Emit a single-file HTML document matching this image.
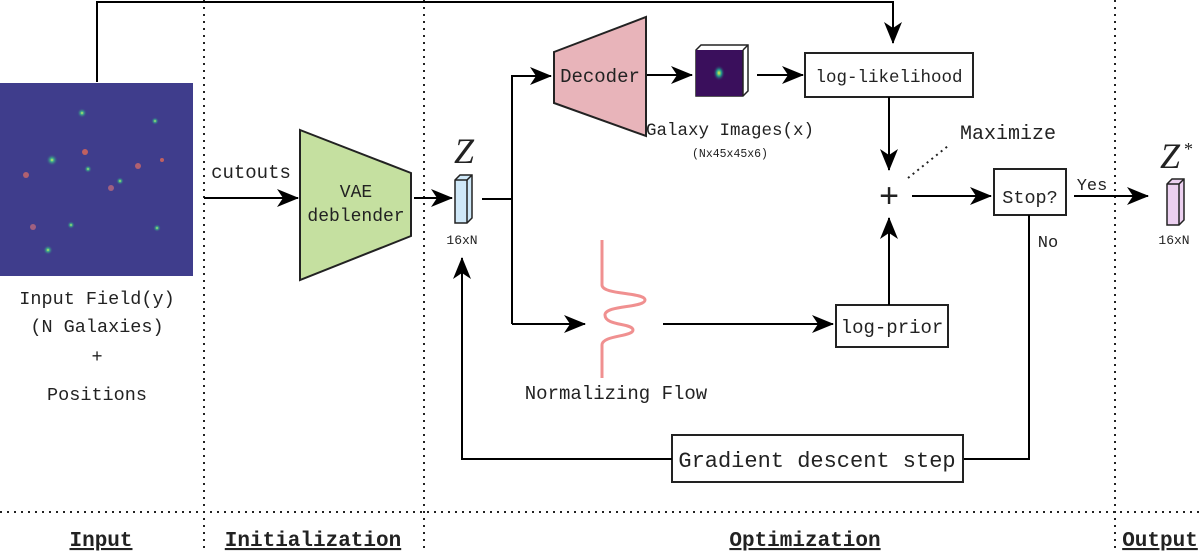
<!DOCTYPE html>
<html><head><meta charset="utf-8"><style>
html,body{margin:0;padding:0;background:#fff;}
svg{display:block;}
text{font-family:"Liberation Mono",monospace;fill:#222;}
</style></head><body>
<svg width="1200" height="553" viewBox="0 0 1200 553" xmlns="http://www.w3.org/2000/svg">
<defs>
<marker id="a" markerWidth="22" markerHeight="18" refX="21" refY="9" orient="auto" markerUnits="userSpaceOnUse" viewBox="0 0 22 18">
<path d="M0,0 L22,9 L0,18 L6,9 Z" fill="#000"/></marker>
<radialGradient id="g"><stop offset="0" stop-color="#d8f060"/><stop offset="0.3" stop-color="#3cb08a"/><stop offset="1" stop-color="#3c3a8a" stop-opacity="0"/></radialGradient>
<radialGradient id="g2"><stop offset="0" stop-color="#e8f040"/><stop offset="0.4" stop-color="#20a090"/><stop offset="1" stop-color="#3a0f5c" stop-opacity="0"/></radialGradient>
</defs>

<g stroke="#222" stroke-width="2" stroke-dasharray="2,5">
<line x1="204" y1="0" x2="204" y2="553"/>
<line x1="424" y1="0" x2="424" y2="553"/>
<line x1="1115" y1="0" x2="1115" y2="553"/>
<line x1="0" y1="512" x2="1200" y2="512"/>
</g>

<rect x="0" y="83" width="193" height="193" fill="#3f3d8c"/>
<g>
<circle cx="82" cy="113" r="5" fill="url(#g)"/>
<circle cx="155" cy="121" r="4" fill="url(#g)"/>
<circle cx="52" cy="160" r="6" fill="url(#g)"/>
<circle cx="85" cy="152" r="3" fill="#c06060"/>
<circle cx="88" cy="169" r="4" fill="url(#g)"/>
<circle cx="26" cy="175" r="3" fill="#b06070"/>
<circle cx="138" cy="166" r="3" fill="#b06070"/>
<circle cx="162" cy="160" r="2" fill="#c06060"/>
<circle cx="120" cy="181" r="4" fill="url(#g)"/>
<circle cx="111" cy="188" r="3" fill="#a06080"/>
<circle cx="33" cy="227" r="3" fill="#a06080"/>
<circle cx="71" cy="225" r="4" fill="url(#g)"/>
<circle cx="157" cy="228" r="4" fill="url(#g)"/>
<circle cx="48" cy="250" r="5" fill="url(#g)"/>
</g>
<text x="97" y="304" font-size="18.5" text-anchor="middle">Input Field(y)</text>
<text x="97" y="332" font-size="18.5" text-anchor="middle">(N Galaxies)</text>
<text x="97" y="362" font-size="18.5" text-anchor="middle">+</text>
<text x="97" y="400" font-size="18.5" text-anchor="middle">Positions</text>

<polyline points="97,82 97,2 893,2 893,43" fill="none" stroke="#000" stroke-width="2" marker-end="url(#a)"/>

<text x="251" y="178" font-size="19" text-anchor="middle">cutouts</text>
<line x1="204" y1="198" x2="298" y2="198" stroke="#000" stroke-width="2" marker-end="url(#a)"/>
<polygon points="300,130 411,173 411,236 300,280" fill="#c5e0a0" stroke="#222" stroke-width="2"/>
<text x="356" y="197" font-size="18" text-anchor="middle">VAE</text>
<text x="356" y="221" font-size="18" text-anchor="middle">deblender</text>
<line x1="414" y1="198" x2="452" y2="198" stroke="#000" stroke-width="2" marker-end="url(#a)"/>

<text x="464" y="163" font-style="italic" font-size="36" text-anchor="middle" style="font-family:'Liberation Serif',serif">Z</text>
<polygon points="455,180 460,175 472,175 472,218 467,223 455,223" fill="#cfe8f8" stroke="#222" stroke-width="1.5"/>
<polyline points="455,180 467,180 472,175" fill="none" stroke="#222" stroke-width="1.5"/>
<line x1="467" y1="180" x2="467" y2="223" stroke="#222" stroke-width="1.5"/>
<text x="462" y="244" font-size="13" text-anchor="middle">16xN</text>

<polyline points="482,199 512,199" fill="none" stroke="#000" stroke-width="2"/>
<polyline points="512,324 512,76 551,76" fill="none" stroke="#000" stroke-width="2" marker-end="url(#a)"/>
<polyline points="512,324 585,324" fill="none" stroke="#000" stroke-width="2" marker-end="url(#a)"/>

<polygon points="554,52 646,17 646,136 554,103" fill="#e8b4ba" stroke="#222" stroke-width="2"/>
<text x="600" y="82" font-size="19" text-anchor="middle">Decoder</text>
<line x1="647" y1="75" x2="692" y2="75" stroke="#000" stroke-width="2" marker-end="url(#a)"/>

<polygon points="696,50 701,45 748,45 748,91 743,96 696,96" fill="#fff" stroke="#222" stroke-width="1.5"/>
<rect x="696" y="50" width="47" height="46" fill="#3a0f5c"/>
<line x1="743" y1="50" x2="748" y2="45" stroke="#222" stroke-width="1.5"/>
<line x1="743" y1="50" x2="743" y2="96" stroke="#222" stroke-width="1.5"/>
<ellipse cx="719" cy="73" rx="6" ry="8" fill="url(#g2)"/>
<text x="730" y="135" font-size="17.5" text-anchor="middle">Galaxy Images(x)</text>
<text x="730" y="157" font-size="11.5" text-anchor="middle">(Nx45x45x6)</text>
<line x1="757" y1="75" x2="803" y2="75" stroke="#000" stroke-width="2" marker-end="url(#a)"/>

<rect x="805" y="53" width="168" height="44" fill="#fff" stroke="#222" stroke-width="2"/>
<text x="889" y="82" font-size="17.5" text-anchor="middle">log-likelihood</text>
<line x1="889" y1="97" x2="889" y2="170" stroke="#000" stroke-width="2" marker-end="url(#a)"/>

<text x="889" y="207" font-size="34" text-anchor="middle" style="font-family:'Liberation Sans',sans-serif">+</text>
<line x1="908" y1="178" x2="948" y2="146" stroke="#222" stroke-width="2" stroke-dasharray="2,4"/>
<text x="1008" y="139" font-size="20" text-anchor="middle">Maximize</text>
<line x1="912" y1="196" x2="991" y2="196" stroke="#000" stroke-width="2" marker-end="url(#a)"/>

<rect x="994" y="169" width="72" height="46" fill="#fff" stroke="#222" stroke-width="2"/>
<text x="1030" y="203" font-size="18.5" text-anchor="middle">Stop?</text>
<text x="1092" y="190" font-size="17" text-anchor="middle">Yes</text>
<line x1="1074" y1="196" x2="1148" y2="196" stroke="#000" stroke-width="2" marker-end="url(#a)"/>
<text x="1048" y="247" font-size="17" text-anchor="middle">No</text>

<text x="1170" y="168" font-size="36" font-style="italic" text-anchor="middle" style="font-family:'Liberation Serif',serif">Z</text>
<text x="1184" y="155" font-size="18" style="font-family:'Liberation Serif',serif">*</text>
<polygon points="1167,184 1172,179 1184,179 1184,220 1179,225 1167,225" fill="#ecd0f0" stroke="#222" stroke-width="1.5"/>
<polyline points="1167,184 1179,184 1184,179" fill="none" stroke="#222" stroke-width="1.5"/>
<line x1="1179" y1="184" x2="1179" y2="225" stroke="#222" stroke-width="1.5"/>
<text x="1174" y="244" font-size="13" text-anchor="middle">16xN</text>

<path d="M602,240 L602,285 C602,295 645,292 645,300 C645,308 605,305 605,315 C605,326 633,323 633,330 C633,337 602,335 602,345 L602,378" fill="none" stroke="#f09090" stroke-width="3"/>
<text x="616" y="399" font-size="19" text-anchor="middle">Normalizing Flow</text>
<line x1="663" y1="324" x2="833" y2="324" stroke="#000" stroke-width="2" marker-end="url(#a)"/>

<rect x="836" y="305" width="112" height="42" fill="#fff" stroke="#222" stroke-width="2"/>
<text x="892" y="333" font-size="19" text-anchor="middle">log-prior</text>
<line x1="889" y1="305" x2="889" y2="218" stroke="#000" stroke-width="2" marker-end="url(#a)"/>

<polyline points="1029,215 1029,459 963,459" fill="none" stroke="#000" stroke-width="2"/>
<rect x="672" y="435" width="291" height="47" fill="#fff" stroke="#222" stroke-width="2"/>
<text x="817" y="467" font-size="22" text-anchor="middle">Gradient descent step</text>
<polyline points="672,459 462,459 462,258" fill="none" stroke="#000" stroke-width="2" marker-end="url(#a)"/>

<g font-weight="bold" font-size="21">
<text x="101" y="546" text-anchor="middle" text-decoration="underline">Input</text>
<text x="313" y="546" text-anchor="middle" text-decoration="underline">Initialization</text>
<text x="805" y="546" text-anchor="middle" text-decoration="underline">Optimization</text>
<text x="1160" y="546" text-anchor="middle" text-decoration="underline">Output</text>
</g>
</svg>
</body></html>
